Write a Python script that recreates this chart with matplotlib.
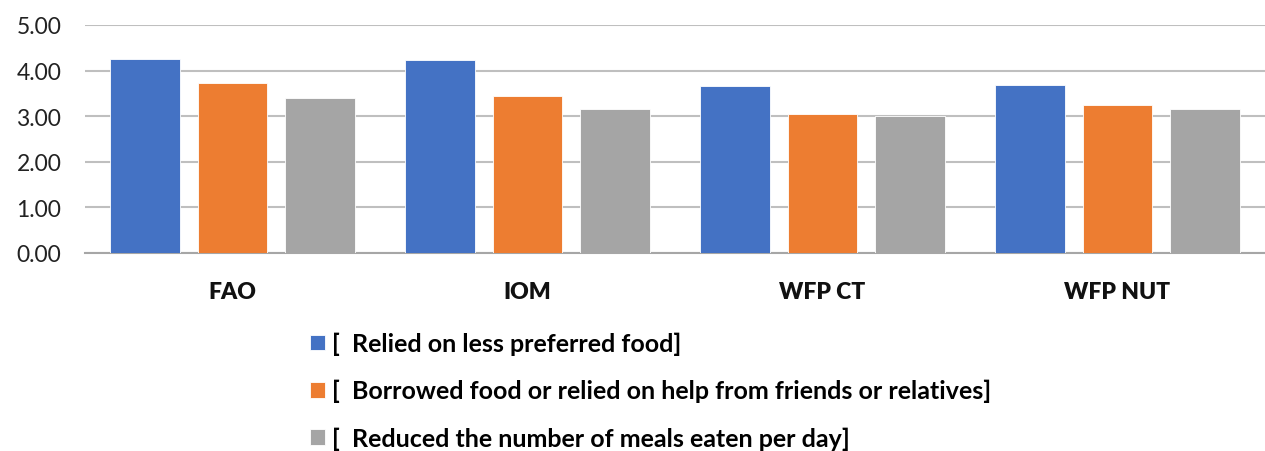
import matplotlib
matplotlib.use("Agg")
import matplotlib.pyplot as plt
import numpy as np

categories = ["FAO", "IOM", "WFP CT", "WFP NUT"]
series_names = [
    "[  Relied on less preferred food]",
    "[  Borrowed food or relied on help from friends or relatives]",
    "[  Reduced the number of meals eaten per day]",
]
relied_less_preferred = [4.26, 4.23, 3.66, 3.69]
borrowed_food = [3.72, 3.44, 3.05, 3.25]
reduced_meals = [3.39, 3.16, 3.01, 3.16]
yticks = [0, 1, 2, 3, 4, 5]
ytick_labels = ["0.00", "1.00", "2.00", "3.00", "4.00", "5.00"]

colors = ["#4472C4", "#ED7D31", "#A5A5A5"]
plt.rcParams["font.family"] = ["Lato", "DejaVu Sans"]

fig = plt.figure(figsize=(12.65, 4.52), dpi=100)
ax = fig.add_axes([85 / 1265, 1 - 254 / 452, 1 - 85 / 1265, 228 / 452])

x = np.arange(len(categories))
width = 0.237
pitch = 0.297
handles = []
for i, (vals, c) in enumerate(zip([relied_less_preferred, borrowed_food, reduced_meals], colors)):
    b = ax.bar(x + (i - 1) * pitch, vals, width, color=c, edgecolor="white", linewidth=0.6, zorder=3)
    handles.append(b)

ax.set_xlim(-0.5, len(categories) - 0.5)
ax.set_ylim(0, 5)
ax.set_yticks(yticks)
ax.set_yticklabels(ytick_labels, fontsize=16.5, color="#222222")
ax.set_xticks(x)
ax.set_xticklabels(categories, fontsize=16.5, fontweight="heavy", color="#111111")
ax.tick_params(axis="both", length=0)
ax.tick_params(axis="x", pad=20)
ax.tick_params(axis="y", pad=17)
ax.yaxis.grid(True, color="#BFBFBF", linewidth=1.5, zorder=0)
ax.set_axisbelow(True)
for s in ["top", "right", "left"]:
    ax.spines[s].set_visible(False)
ax.spines["bottom"].set_color("#A6A6A6")
ax.spines["bottom"].set_linewidth(1.5)

fig.legend(handles, series_names, loc="upper left",
           bbox_to_anchor=(310 / 1265, 1 - 333 / 452), frameon=False,
           handlelength=0.6, handleheight=0.6, handletextpad=0.3,
           labelspacing=0.95, borderaxespad=0, borderpad=0,
           prop={"size": 18, "weight": "bold"})

fig.savefig("out.png", dpi=100, facecolor="white")
